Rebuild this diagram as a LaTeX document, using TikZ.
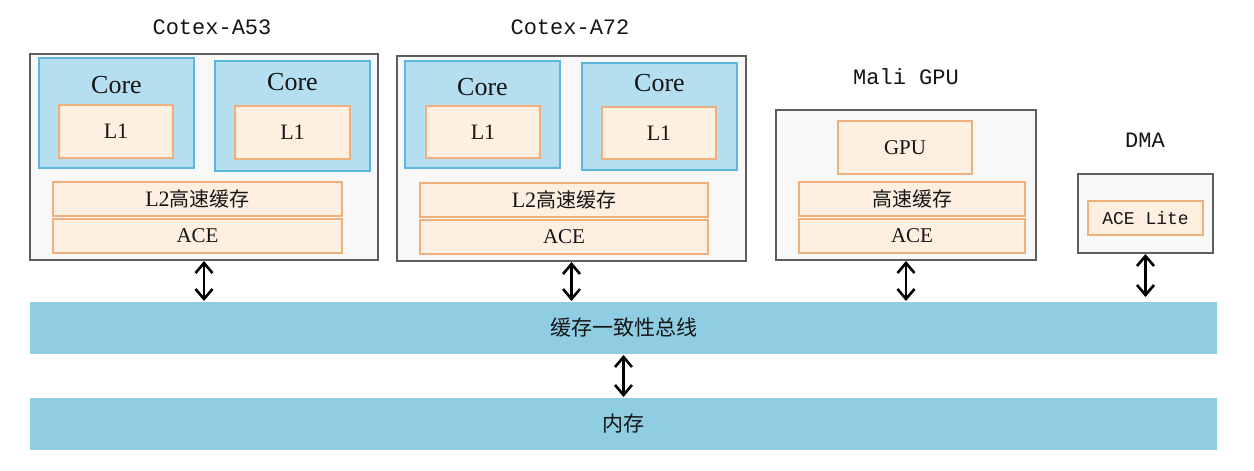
\documentclass[tikz,border=0pt]{standalone}
\usepackage{fontspec}
\setmainfont{Liberation Serif}
\setmonofont{Liberation Mono}
\newfontfamily\cjk{Noto Sans CJK SC}
\usetikzlibrary{arrows.meta}
\definecolor{outerfill}{HTML}{F8F8F8}
\definecolor{outerline}{HTML}{5E5E5E}
\definecolor{corefill}{HTML}{B5DFF0}
\definecolor{coreline}{HTML}{5CB6DE}
\definecolor{orfill}{HTML}{FDF0E1}
\definecolor{orline}{HTML}{F0B07C}
\definecolor{busfill}{HTML}{8FCDE3}
\definecolor{txt}{HTML}{151515}
\newcommand\rbox[7]{\node[#1,anchor=north west,minimum width={#4pt-#2pt},minimum height={#5pt-#3pt}] (#6) at (#2,#3) {#7};}
\tikzset{
  base/.style={inner sep=0pt,outer sep=0pt,text=txt},
  outerbox/.style={base,draw=outerline,fill=outerfill,line width=1.2pt},
  corebox/.style={base,draw=coreline,fill=corefill,line width=1.2pt},
  orbox/.style={base,draw=orline,fill=orfill,line width=1.2pt},
  busbox/.style={base,fill=busfill},
  title/.style={base,font=\ttfamily\fontsize{22}{22}\selectfont},
  coretxt/.style={base,font=\fontsize{26}{26}\selectfont},
  l1txt/.style={font=\fontsize{22}{22}\selectfont},
  cjktxt/.style={font=\cjk\fontsize{20}{20}\selectfont},
  acetxt/.style={font=\fontsize{21}{21}\selectfont},
  dar/.style={line width=2.6pt,black,{Straight Barb[length=10pt,width=17pt]}-{Straight Barb[length=10pt,width=17pt]},shorten <=1pt,shorten >=1pt}
}
\begin{document}
\begin{tikzpicture}[x=1pt,y=-1pt]
\fill[white] (0,0) rectangle (1254,471);
\useasboundingbox (0,0) rectangle (1254,471);
% Cortex-A53
\node[title] (t53) at (212,27) {Cotex-A53};
\rbox{outerbox}{30}{54}{378}{260}{a53}{}
\rbox{corebox}{39}{58}{194}{168}{c531}{}
\node[coretxt] (c531t) at (116.5,85) {Core};
\rbox{orbox,l1txt}{59}{105}{173}{158}{l1531}{L1}
\rbox{corebox}{215}{61}{370}{171}{c532}{}
\node[coretxt] (c532t) at (292.5,82) {Core};
\rbox{orbox,l1txt}{235}{106}{350}{159}{l1532}{L1}
\rbox{orbox,cjktxt}{53}{182}{342}{216}{l253}{{\rmfamily\fontsize{22}{22}\selectfont L2}高速缓存}
\rbox{orbox,acetxt}{53}{219}{342}{253}{ace53}{ACE}
% Cortex-A72
\node[title] (t72) at (570,27) {Cotex-A72};
\rbox{outerbox}{397}{56}{746}{261}{a72}{}
\rbox{corebox}{405}{61}{560}{168}{c721}{}
\node[coretxt] (c721t) at (482.5,87) {Core};
\rbox{orbox,l1txt}{426}{106}{540}{158}{l1721}{L1}
\rbox{corebox}{582}{63}{737}{170}{c722}{}
\node[coretxt] (c722t) at (659.5,83) {Core};
\rbox{orbox,l1txt}{602}{107}{716}{159}{l1722}{L1}
\rbox{orbox,cjktxt}{420}{183}{708}{217}{l272}{{\rmfamily\fontsize{22}{22}\selectfont L2}高速缓存}
\rbox{orbox,acetxt}{420}{220}{708}{254}{ace72}{ACE}
% Mali GPU
\node[title] (tgpu) at (906,77) {Mali GPU};
\rbox{outerbox}{776}{110}{1036}{260}{gpu}{}
\rbox{orbox,acetxt}{838}{121}{972}{174}{gpucore}{GPU}
\rbox{orbox,cjktxt}{799}{182}{1025}{216}{gpucache}{高速缓存}
\rbox{orbox,acetxt}{799}{219}{1025}{253}{gpuace}{ACE}
% DMA
\node[title] (tdma) at (1145,140) {DMA};
\rbox{outerbox}{1078}{174}{1213}{253}{dma}{}
\rbox{orbox,font=\ttfamily\fontsize{18}{18}\selectfont}{1088}{201}{1203}{235}{acelite}{ACE Lite}
% bus and memory
\rbox{busbox,font=\cjk\fontsize{21}{21}\selectfont}{30}{302}{1217}{354}{bus}{缓存一致性总线}
\rbox{busbox,font=\cjk\fontsize{21}{21}\selectfont}{30}{398}{1217}{450}{mem}{内存}
% arrows
\draw[dar] (a53.south) -- (a53.south |- bus.north);
\draw[dar] (a72.south) -- (a72.south |- bus.north);
\draw[dar] (gpu.south) -- (gpu.south |- bus.north);
\draw[dar] (dma.south) -- ([yshift=4pt]dma.south |- bus.north);
\draw[dar] (bus.south) -- (mem.north);
\end{tikzpicture}
\end{document}
